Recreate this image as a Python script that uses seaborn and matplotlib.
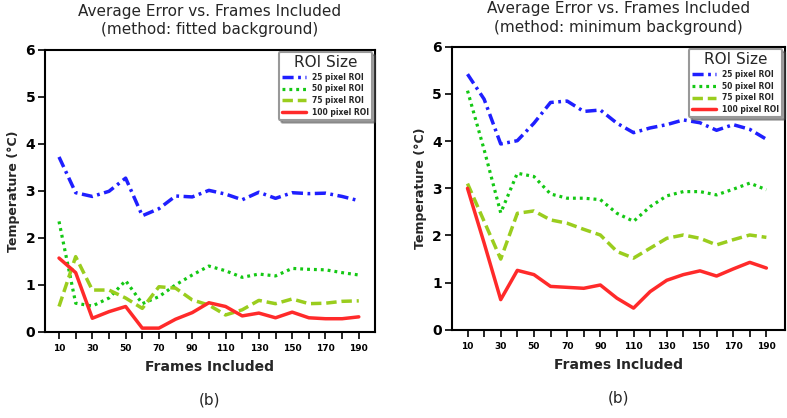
import numpy as np
import pandas as pd
import matplotlib
matplotlib.use("Agg")
import matplotlib.pyplot as plt
import seaborn as sns

frames = list(range(10, 200, 10))
tick_labels = ["10", "30", "50", "70", "90", "110", "130", "150", "170", "190"]
series_names = ["25 pixel ROI", "50 pixel ROI", "75 pixel ROI", "100 pixel ROI"]

fitted_25 = [3.72, 2.96, 2.88, 2.99, 3.27, 2.47, 2.62, 2.89, 2.87, 3.01, 2.93, 2.81, 2.97, 2.84, 2.96, 2.94, 2.95, 2.88, 2.79]
fitted_50 = [2.35, 0.61, 0.55, 0.72, 1.09, 0.60, 0.75, 1.00, 1.21, 1.40, 1.30, 1.16, 1.23, 1.19, 1.35, 1.33, 1.32, 1.26, 1.21]
fitted_75 = [0.54, 1.60, 0.89, 0.89, 0.72, 0.50, 0.96, 0.93, 0.68, 0.57, 0.36, 0.47, 0.67, 0.60, 0.70, 0.60, 0.61, 0.65, 0.66]
fitted_100 = [1.57, 1.26, 0.29, 0.43, 0.54, 0.08, 0.08, 0.27, 0.41, 0.62, 0.54, 0.34, 0.40, 0.30, 0.42, 0.30, 0.28, 0.28, 0.32]

min_25 = [5.42, 4.89, 3.94, 4.01, 4.38, 4.82, 4.85, 4.63, 4.66, 4.38, 4.18, 4.28, 4.35, 4.45, 4.39, 4.23, 4.35, 4.25, 4.04]
min_50 = [5.07, 3.82, 2.48, 3.32, 3.25, 2.88, 2.79, 2.79, 2.76, 2.47, 2.30, 2.61, 2.84, 2.93, 2.93, 2.86, 2.98, 3.11, 2.97]
min_75 = [3.10, 2.30, 1.50, 2.47, 2.52, 2.33, 2.26, 2.13, 2.01, 1.66, 1.52, 1.73, 1.94, 2.01, 1.94, 1.80, 1.91, 2.01, 1.96]
min_100 = [3.00, 1.84, 0.64, 1.26, 1.17, 0.92, 0.90, 0.88, 0.95, 0.67, 0.46, 0.81, 1.05, 1.17, 1.25, 1.14, 1.29, 1.43, 1.31]

colors = ["#1f1fff", "#14c814", "#9acd1e", "#ff2a2a"]
dash_patterns = [(3.2, 1.3, 0.8, 1.3), (0.9, 1.25), (3.0, 1.4), None]
widths = [2.5, 2.3, 2.5, 2.5]

sns.set_style("white")
plt.rcParams["font.family"] = ["DejaVu Sans"]

fig = plt.figure(figsize=(7.87, 4.18), dpi=100)
ax1 = fig.add_axes([0.057, 0.206, 0.419, 0.675])
ax2 = fig.add_axes([0.574, 0.211, 0.423, 0.677])

panels = [
    (ax1, [fitted_25, fitted_50, fitted_75, fitted_100],
     "Average Error vs. Frames Included\n(method: fitted background)", (1.5, 199.5)),
    (ax2, [min_25, min_50, min_75, min_100],
     "Average Error vs. Frames Included\n(method: minimum background)", (0.5, 201)),
]

for ax, vals, title, xlim in panels:
    df = pd.DataFrame({"Frames": frames * 4,
                       "Temp": sum(vals, []),
                       "ROI": [n for n in series_names for _ in frames]})
    for name, c, dp, lw in zip(series_names, colors, dash_patterns, widths):
        sub = df[df["ROI"] == name]
        line_ax = sns.lineplot(data=sub, x="Frames", y="Temp", ax=ax, color=c,
                               linewidth=lw, label=name)
        ln = line_ax.get_lines()[-1]
        if dp is not None:
            ln.set_dashes(dp)
    ax.set_xlim(*xlim)
    ax.set_ylim(0, 6)
    ax.set_xticks(frames)
    ax.set_xticklabels([str(f) if str(f) in tick_labels else "" for f in frames],
                       fontsize=6.5, fontweight="bold")
    ax.set_yticks(range(0, 7))
    ax.set_yticklabels([str(v) for v in range(0, 7)], fontsize=10, fontweight="bold")
    ax.tick_params(axis="both", direction="out", length=5, width=1.2,
                   bottom=True, left=True, top=False, right=False, colors="black")
    ax.tick_params(axis="y", pad=2)
    for s in ax.spines.values():
        s.set_color("black")
        s.set_linewidth(1.5)
    ax.set_xlabel("Frames Included", fontsize=10, fontweight="bold", labelpad=5)
    ax.set_ylabel("Temperature (°C)", fontsize=9, fontweight="bold", labelpad=4)
    ax.set_title(title, fontsize=11, pad=11, linespacing=1.3)
    leg = ax.legend(title="ROI Size", loc="upper right", shadow=True, fancybox=True,
                    prop={"size": 5.5, "weight": "bold"}, title_fontsize=11,
                    handlelength=3.2, borderaxespad=0.3, labelspacing=0.35,
                    edgecolor="#999999", framealpha=1)
    leg.get_frame().set_linewidth(1.5)
    ax.text(0.5, -0.215, "(b)", transform=ax.transAxes, ha="center", va="top",
            fontsize=11)

fig.savefig("out.png", dpi=100)
